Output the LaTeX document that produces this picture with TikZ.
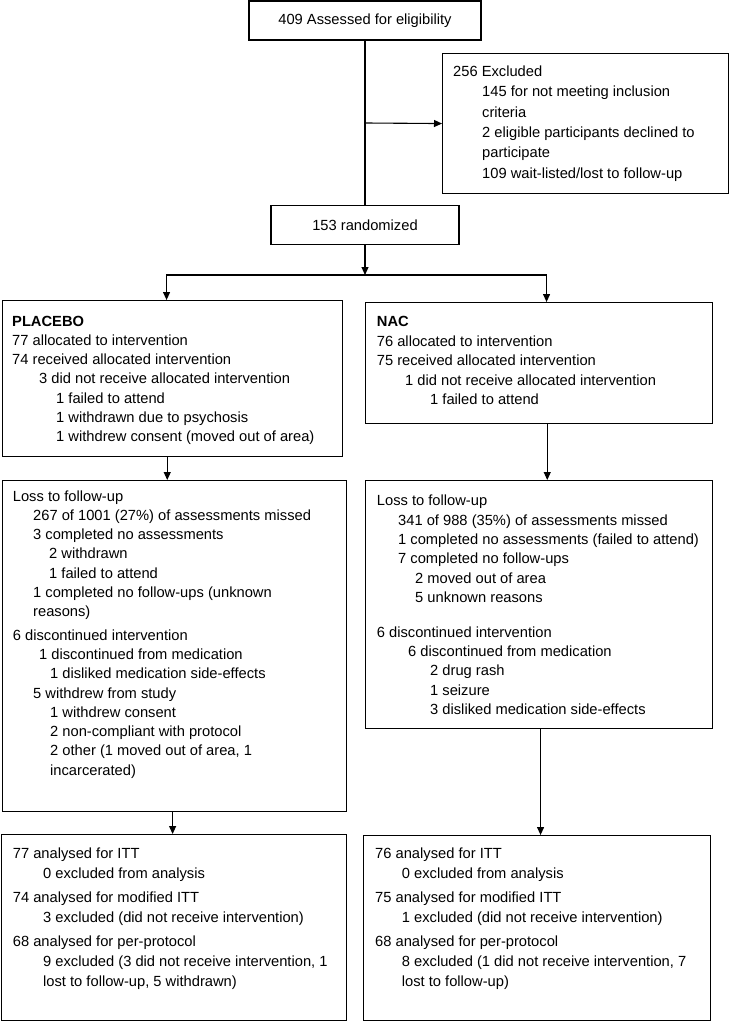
\documentclass[tikz,border=0pt]{standalone}
\usepackage{fontspec}
\setmainfont{Liberation Sans}
\usetikzlibrary{arrows.meta}
\newcommand\fsz[1]{\fontsize{14.7}{#1}\selectfont}
\newcommand\ind[1]{\hspace*{#1pt}}
\begin{document}
\begin{tikzpicture}[x=1pt,y=-1pt,
  bx/.style={draw, line width=1.1pt, inner sep=0pt, anchor=north west},
  cbox/.style={draw, line width=1.1pt, inner sep=0pt, font={\fsz{18}}},
  txt/.style={anchor=base west, inner sep=0pt},
  arr/.style={line width=1.1pt, -{Triangle[width=7pt,length=8pt]}}]
\useasboundingbox (0,0) rectangle (729,1024);

% boxes
\node[cbox, minimum width=232pt, minimum height=39pt] (elig) at (365,20.5) {409 Assessed for eligibility};
\node[bx, minimum width=286pt, minimum height=140pt] (excl) at (442,53) {};
\node[cbox, minimum width=188pt, minimum height=39pt] (rand) at (365,225) {153 randomized};
\node[bx, minimum width=340pt, minimum height=156pt] (plac) at (2,300) {};
\node[bx, minimum width=347pt, minimum height=121pt] (nac) at (365,302) {};
\node[bx, minimum width=344.5pt, minimum height=331pt] (ploss) at (1.5,480) {};
\node[bx, minimum width=347pt, minimum height=248pt] (nloss) at (365,480) {};
\node[bx, minimum width=345pt, minimum height=186pt] (pan) at (1,834) {};
\node[bx, minimum width=347pt, minimum height=185pt] (nan) at (363,835) {};

% texts
\node[txt, font={\fsz{20.3}}] (excl-t) at (453,76.7) {\begin{tabular}[t]{@{}l@{}}
256 Excluded\\
\ind{29}145 for not meeting inclusion\\
\ind{29}criteria\\
\ind{29}2 eligible participants declined to\\
\ind{29}participate\\
\ind{29}109 wait-listed/lost to follow-up
\end{tabular}};

\node[txt, font={\fsz{19.3}}] (plac-t) at (12,326) {\begin{tabular}[t]{@{}l@{}}
\textbf{PLACEBO}\\
77 allocated to intervention\\
74 received allocated intervention\\
\ind{27}3 did not receive allocated intervention\\
\ind{44}1 failed to attend\\
\ind{44}1 withdrawn due to psychosis\\
\ind{44}1 withdrew consent (moved out of area)
\end{tabular}};

\node[txt, font={\fsz{19.5}}] (nac-t) at (376.7,326.7) {\begin{tabular}[t]{@{}l@{}}
\textbf{NAC}\\
76 allocated to intervention\\
75 received allocated intervention\\
\ind{28.3}1 did not receive allocated intervention\\
\ind{53.3}1 failed to attend
\end{tabular}};

\node[txt, font={\fsz{19.3}}] (ploss-t) at (12.7,501) {\begin{tabular}[t]{@{}l@{}}
Loss to follow-up\\
\ind{20.3}267 of 1001 (27\%) of assessments missed\\
\ind{20.3}3 completed no assessments\\
\ind{36.3}2 withdrawn\\
\ind{36.3}1 failed to attend\\
\ind{20.3}1 completed no follow-ups (unknown\\
\ind{20.3}reasons)\\[4pt]
6 discontinued intervention\\
\ind{26.3}1 discontinued from medication\\
\ind{37.3}1 disliked medication side-effects\\
\ind{20.3}5 withdrew from study\\
\ind{37.3}1 withdrew consent\\
\ind{37.3}2 non-compliant with protocol\\
\ind{37.3}2 other (1 moved out of area, 1\\
\ind{37.3}incarcerated)
\end{tabular}};

\node[txt, font={\fsz{19.4}}] (nloss-t) at (376.7,505.7) {\begin{tabular}[t]{@{}l@{}}
Loss to follow-up\\
\ind{21.3}341 of 988 (35\%) of assessments missed\\
\ind{21.3}1 completed no assessments (failed to attend)\\
\ind{21.3}7 completed no follow-ups\\
\ind{38.3}2 moved out of area\\
\ind{38.3}5 unknown reasons\\[15pt]
6 discontinued intervention\\
\ind{31.3}6 discontinued from medication\\
\ind{53.3}2 drug rash\\
\ind{53.3}1 seizure\\
\ind{53.3}3 disliked medication side-effects
\end{tabular}};

\node[txt, font={\fsz{20}}] (pan-t) at (12.7,858) {\begin{tabular}[t]{@{}l@{}}
77 analysed for ITT\\
\ind{30.3}0 excluded from analysis\\[4pt]
74 analysed for modified ITT\\
\ind{30.3}3 excluded (did not receive intervention)\\[4pt]
68 analysed for per-protocol\\
\ind{30.3}9 excluded (3 did not receive intervention, 1\\
\ind{30.3}lost to follow-up, 5 withdrawn)
\end{tabular}};

\node[txt, font={\fsz{20}}] (nan-t) at (375,858) {\begin{tabular}[t]{@{}l@{}}
76 analysed for ITT\\
\ind{26.7}0 excluded from analysis\\[4pt]
75 analysed for modified ITT\\
\ind{26.7}1 excluded (did not receive intervention)\\[4pt]
68 analysed for per-protocol\\
\ind{26.7}8 excluded (1 did not receive intervention, 7\\
\ind{26.7}lost to follow-up)
\end{tabular}};

% connectors
\coordinate (br) at (365,123);
\coordinate (split) at (365,275);
\draw[line width=2pt] (elig.south) -- (rand.north);
\draw[arr] (br) -- (excl.west);
\draw[arr] (rand.south) -- (split);
\draw[arr] (split) -| ([xshift=-6pt]plac.north);
\draw[arr] (split) -| ([xshift=7.5pt]nac.north);
\coordinate (a1) at ([xshift=-5.3pt]plac.south);
\coordinate (a2) at ([xshift=8.2pt]nac.south);
\coordinate (a3) at ([xshift=-1.7pt]ploss.south);
\coordinate (a4) at ([xshift=1.5pt]nloss.south);
\draw[arr] (a1) -- (a1 |- ploss.north);
\draw[arr] (a2) -- (a2 |- nloss.north);
\draw[arr] (a3) -- (a3 |- pan.north);
\draw[arr] (a4) -- (a4 |- nan.north);
\end{tikzpicture}
\end{document}
